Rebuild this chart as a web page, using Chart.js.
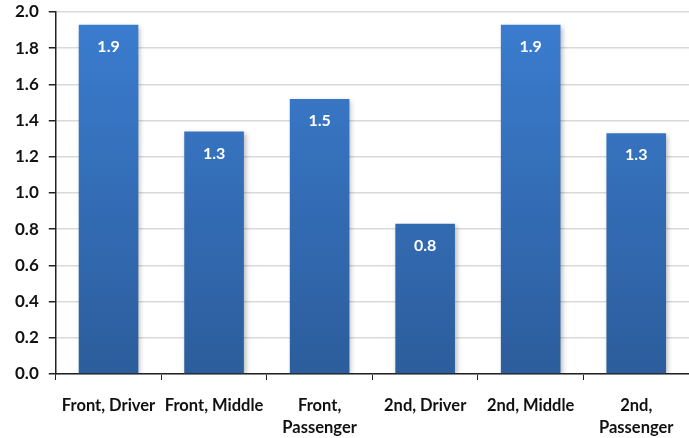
<!DOCTYPE html>
<html>
<head>
<meta charset="utf-8">
<script src="https://cdn.jsdelivr.net/npm/chart.js@4/dist/chart.umd.min.js"></script>
<style>
  html, body { margin: 0; padding: 0; background: #fff; }
  #wrap { width: 689px; height: 438px; }
</style>
</head>
<body>
<div id="wrap"><canvas id="chart" width="689" height="438"></canvas></div>
<script>
// Data
const categories = [
  'Front, Driver',
  'Front, Middle',
  ['Front,', 'Passenger'],
  '2nd, Driver',
  '2nd, Middle',
  ['2nd,', 'Passenger']
];
const values = [1.93, 1.34, 1.52, 0.83, 1.93, 1.33];
const yTicks = [0, 0.2, 0.4, 0.6, 0.8, 1.0, 1.2, 1.4, 1.6, 1.8, 2.0];

const FONT = 'Lato, "Open Sans", sans-serif';

// bar fill: lighter at top, darker at bottom
function barGradient(context) {
  const chart = context.chart;
  const area = chart.chartArea;
  if (!area) return '#3a78c6';
  const g = chart.ctx.createLinearGradient(0, area.top, 0, area.bottom);
  g.addColorStop(0, '#3b7dd0');
  g.addColorStop(1, '#2c5d9c');
  return g;
}

// soft shadow behind the bars
const barShadow = {
  id: 'barShadow',
  beforeDatasetDraw(chart) {
    const ctx = chart.ctx;
    ctx.save();
    ctx.shadowColor = 'rgba(0,0,0,0.28)';
    ctx.shadowBlur = 5;
    ctx.shadowOffsetX = 2;
    ctx.shadowOffsetY = 2;
  },
  afterDatasetDraw(chart) {
    chart.ctx.restore();
  }
};

// value labels inside the top of each bar
const valueLabels = {
  id: 'valueLabels',
  afterDatasetsDraw(chart) {
    const ctx = chart.ctx;
    const meta = chart.getDatasetMeta(0);
    ctx.save();
    ctx.fillStyle = '#ffffff';
    ctx.font = 'bold 16px ' + FONT;
    ctx.textAlign = 'center';
    ctx.textBaseline = 'middle';
    meta.data.forEach((bar, i) => {
      ctx.fillText(values[i].toFixed(1), bar.x, bar.y + 22);
    });
    ctx.restore();
  }
};

new Chart(document.getElementById('chart').getContext('2d'), {
  type: 'bar',
  data: {
    labels: categories,
    datasets: [{
      data: values,
      backgroundColor: barGradient,
      borderWidth: 0,
      categoryPercentage: 1.0,
      barPercentage: 0.565
    }]
  },
  options: {
    responsive: false,
    animation: false,
    layout: { padding: { top: 12, right: 0, left: 5, bottom: 0 } },
    plugins: {
      legend: { display: false },
      tooltip: { enabled: false }
    },
    scales: {
      x: {
        afterFit(scale) {
          scale.height = 64;
        },
        grid: {
          drawOnChartArea: false,
          drawTicks: true,
          tickLength: 6,
          tickColor: '#222',
          offset: true
        },
        border: { color: '#222', width: 1.5 },
        ticks: {
          color: '#111',
          font: { family: FONT, size: 16.5, weight: 'bold', lineHeight: 1.3 },
          padding: 15,
          maxRotation: 0,
          autoSkip: false
        }
      },
      y: {
        min: 0,
        max: 2,
        afterBuildTicks(scale) {
          scale.ticks = yTicks.map(v => ({ value: v }));
        },
        afterFit(scale) {
          scale.paddingTop = 0;
          scale.paddingBottom = 0;
        },
        grid: {
          color: '#d9d9d9',
          lineWidth: 1.5,
          tickColor: '#222',
          tickLength: 7
        },
        border: { color: '#222', width: 1.5 },
        ticks: {
          color: '#111',
          font: { family: FONT, size: 17, weight: 'bold' },
          padding: 10,
          callback: v => v.toFixed(1)
        }
      }
    }
  },
  plugins: [barShadow, valueLabels]
});
</script>
</body>
</html>
